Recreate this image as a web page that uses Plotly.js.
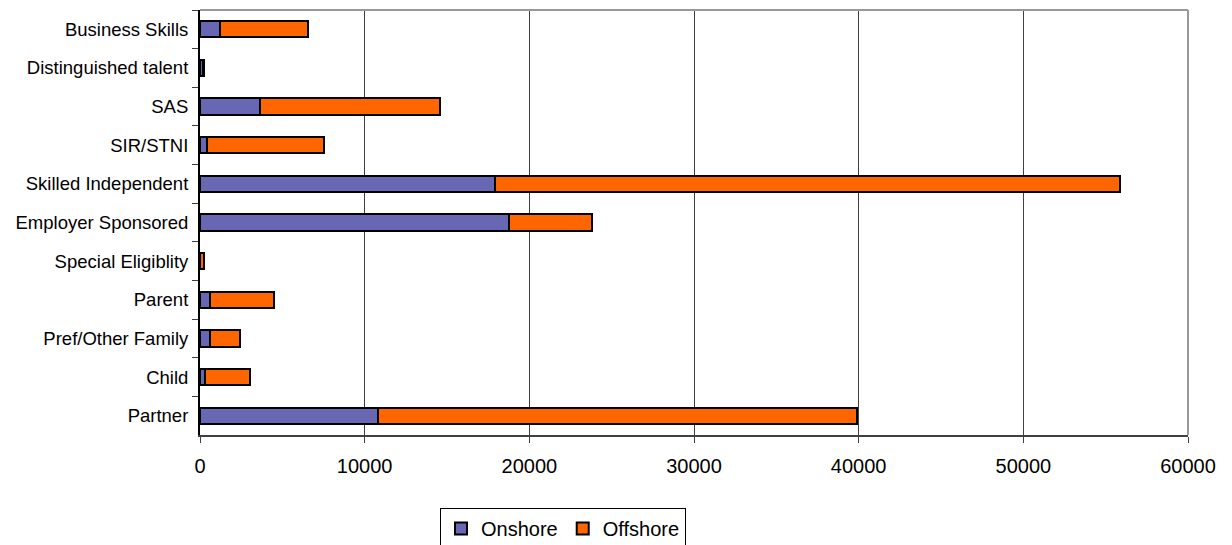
<!DOCTYPE html>
<html>
<head>
<meta charset="utf-8">
<script src="https://cdn.plot.ly/plotly-3.0.1.min.js"></script>
<style>
html,body{margin:0;padding:0;background:#fff;}
#chart{width:1232px;height:545px;}
</style>
</head>
<body>
<div id="chart"></div>
<script>
const categories = ["Business Skills","Distinguished talent","SAS","SIR/STNI","Skilled Independent","Employer Sponsored","Special Eligiblity","Parent","Pref/Other Family","Child","Partner"];
const onshore  = [1200, 180, 3620, 450, 17940, 18790, 30, 590, 590, 330, 10800];
const offshore = [5350,  90, 10930, 7075, 37910, 5000, 195, 3900, 1820, 2685, 29110];
const xTicks = [0,10000,20000,30000,40000,50000,60000];

const traces = [
  {type:"bar", orientation:"h", name:"Onshore", y:categories, x:onshore,
   marker:{color:"#6767b4", line:{color:"#000", width:2}}},
  {type:"bar", orientation:"h", name:"Offshore", y:categories, x:offshore,
   marker:{color:"#ff6600", line:{color:"#000", width:2}}}
];

const layout = {
  width:1232, height:545,
  margin:{l:200, r:44, t:10, b:110},
  paper_bgcolor:"#fff", plot_bgcolor:"#fff",
  barmode:"stack", bargap:0.58,
  font:{family:"Liberation Sans, Arial, sans-serif", color:"#000"},
  xaxis:{range:[0,60000], tickvals:xTicks, ticktext:xTicks.map(String),
    showgrid:true, gridcolor:"#404040", gridwidth:1,
    showline:true, linecolor:"#404040", linewidth:2,
    ticks:"outside", ticklen:6, tickcolor:"#404040", ticklabelstandoff:6,
    tickfont:{size:20}, zeroline:false, fixedrange:true, automargin:false},
  yaxis:{type:"category", autorange:"reversed", tickson:"boundaries",
    showline:true, linecolor:"#000", linewidth:2,
    ticks:"outside", ticklen:6, tickcolor:"#404040", ticklabelstandoff:6,
    tickfont:{size:18.5}, showgrid:false, fixedrange:true, automargin:false},
  showlegend:true,
  legend:{orientation:"h", xref:"container", yref:"container",
    x:440/1232, xanchor:"left", y:(545-508)/545, yanchor:"top",
    traceorder:"normal", bordercolor:"#000", borderwidth:1,
    font:{size:20}, bgcolor:"#fff"},
  shapes:[
    {type:"line", xref:"paper", yref:"paper", x0:0, x1:1, y0:1, y1:1, line:{color:"#999", width:2}},
    {type:"line", xref:"paper", yref:"paper", x0:1, x1:1, y0:0, y1:1, line:{color:"#999", width:2}}
  ]
};

Plotly.newPlot("chart", traces, layout, {displayModeBar:false, staticPlot:true});
</script>
</body>
</html>
